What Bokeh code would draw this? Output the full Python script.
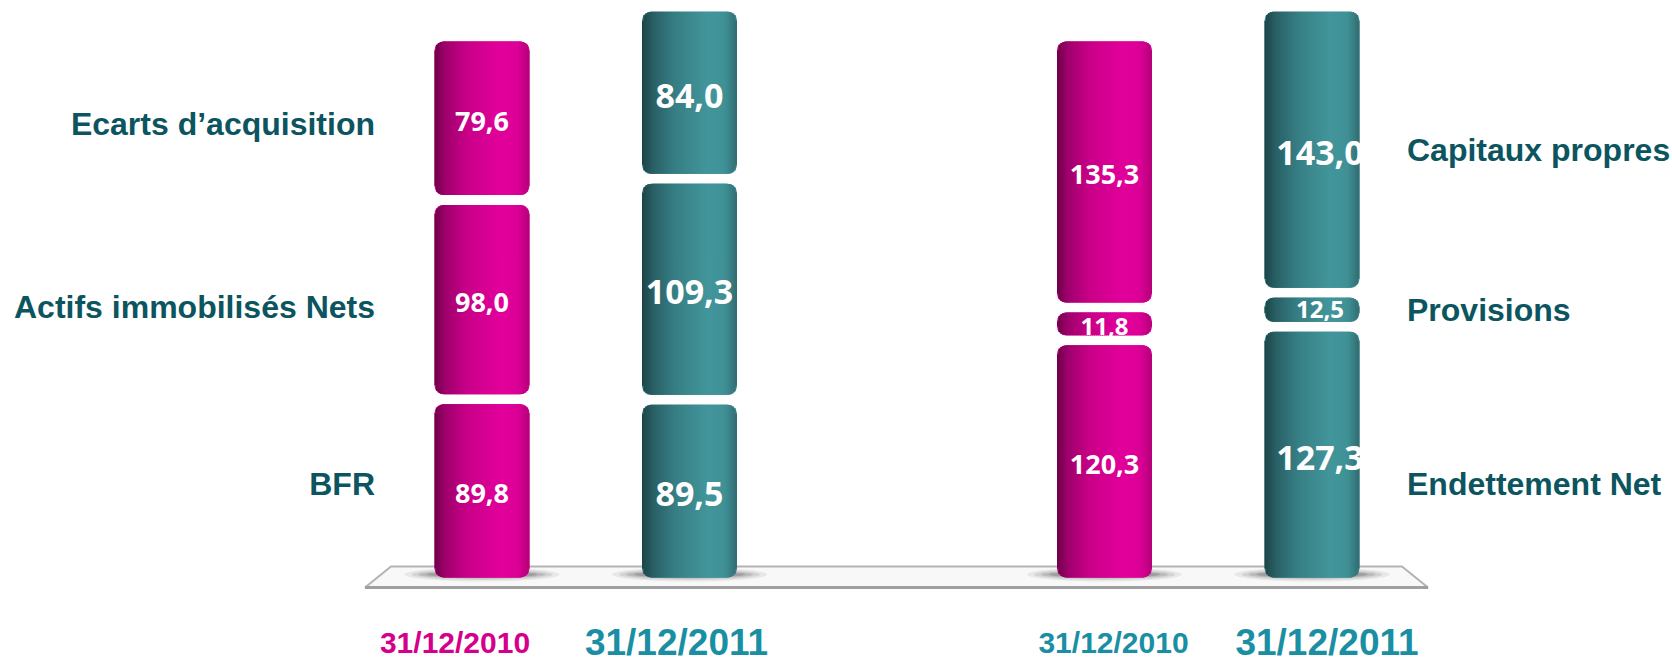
import numpy as np
from bokeh.plotting import figure
from bokeh.models import Range1d
from bokeh.embed import file_html
from bokeh.resources import INLINE
from bokeh.core.properties import value

# ---------------- data ----------------
periods = ["31/12/2010", "31/12/2011"]
actif_items = ["BFR", "Actifs immobilisés Nets", "Ecarts d’acquisition"]
actif_2010 = [89.8, 98.0, 79.6]
actif_2011 = [89.5, 109.3, 84.0]
passif_items = ["Endettement Net", "Provisions", "Capitaux propres"]
passif_2010 = [120.3, 11.8, 135.3]
passif_2011 = [127.3, 12.5, 143.0]

# ---------------- layout / style ----------------
W, H = 1672, 663
PX_X = 207.5          # pixels per x unit
PX_Y = 1.93           # pixels per value unit
X0, Y0 = -481.5 / PX_X, -86 / PX_Y
GAP = 10 / PX_Y
BAR_W = 95 / PX_X
RAD = 9               # corner radius px
NSTRIP = 48

PINK_STOPS = [(0.0, "#6a0046"), (0.12, "#9e006c"), (0.35, "#c90088"),
              (0.70, "#e2009b"), (0.88, "#dc0096"), (1.0, "#b5007a")]
TEAL_STOPS = [(0.0, "#1b4246"), (0.12, "#295f64"), (0.35, "#367e84"),
              (0.70, "#42969b"), (0.88, "#3f9196"), (1.0, "#326d72")]
LABEL_COL = "#0c5560"
PINK_TXT = "#d4008c"
TEAL_TXT = "#1a8fa3"


def hex2rgb(h):
    h = h.lstrip("#")
    return np.array([int(h[i:i + 2], 16) for i in (0, 2, 4)], float)


def grad(stops, t):
    ts = [s[0] for s in stops]
    cs = np.array([hex2rgb(s[1]) for s in stops])
    rgb = [np.interp(t, ts, cs[:, k]) for k in range(3)]
    return "#%02x%02x%02x" % tuple(int(round(c)) for c in rgb)


p = figure(width=W, height=H, output_backend="svg", toolbar_location=None,
           x_range=Range1d(X0, X0 + W / PX_X), y_range=Range1d(Y0, Y0 + H / PX_Y),
           min_border=0)
p.axis.visible = False
p.grid.visible = False
p.outline_line_color = None
p.background_fill_color = "white"
p.border_fill_color = "white"

bars = [
    (0, 0, actif_2010, PINK_STOPS),
    (0, 1, actif_2011, TEAL_STOPS),
    (1, 0, passif_2010, PINK_STOPS),
    (1, 1, passif_2011, TEAL_STOPS),
]
xpos = [3 * g + k for g, k, _, _ in bars]
xf, xl = min(xpos), max(xpos)

# ---- floor ----
fx = [xf - 91 / PX_X, xl + 90 / PX_X, xl + 116 / PX_X, xf - 117 / PX_X]
fy = [11 / PX_Y, 11 / PX_Y, -10 / PX_Y, -10 / PX_Y]
p.patch(fx, fy, fill_color="#f8f8f8", line_color="#b3b3b3", line_width=2)
p.line([fx[3], fx[2]], [fy[3], fy[2]], line_color="#a0a0a0", line_width=3)

# ---- shadows ----
for (dw, dh, a) in [(60, 14, 0.08), (46, 11, 0.11), (32, 8, 0.15), (16, 6, 0.2)]:
    p.ellipse(x=xpos, y=[3 / PX_Y] * 4, width=BAR_W + dw / PX_X, height=dh / PX_Y,
              fill_color="#303030", fill_alpha=a, line_color=None)

# ---- cylinders ----
base = dict(l=[], r=[], b=[], t=[], c=[])
strips = dict(l=[], r=[], b=[], t=[], c=[])
seg_centers = []
sw = BAR_W / NSTRIP
swp = 95 / NSTRIP
for (g, k, vals, stops), x in zip(bars, xpos):
    bottom = 0.0
    centers = []
    for v in vals:
        top = bottom + v
        base["l"].append(x - BAR_W / 2); base["r"].append(x + BAR_W / 2)
        base["b"].append(bottom); base["t"].append(top)
        base["c"].append(grad(stops, 0.5))
        for i in range(NSTRIP):
            t = (i + 0.5) / NSTRIP
            l = x - BAR_W / 2 + i * sw - 0.3 * sw
            r = x - BAR_W / 2 + (i + 1) * sw + 0.3 * sw
            l = max(l, x - BAR_W / 2); r = min(r, x + BAR_W / 2)
            d = min(i, NSTRIP - 1 - i) * swp
            inset = 0.0
            if d < RAD:
                inset = RAD - np.sqrt(RAD ** 2 - (RAD - d) ** 2)
            strips["l"].append(l); strips["r"].append(r)
            strips["b"].append(bottom + inset / PX_Y)
            strips["t"].append(top - inset / PX_Y)
            strips["c"].append(grad(stops, t))
        centers.append((bottom + top) / 2)
        bottom = top + GAP
    seg_centers.append(centers)

p.quad(left=base["l"], right=base["r"], bottom=base["b"], top=base["t"],
       fill_color=base["c"], line_color=None, border_radius=RAD)
p.quad(left=strips["l"], right=strips["r"], bottom=strips["b"], top=strips["t"],
       fill_color=strips["c"], line_color=None)


def fmt(v):
    return f"{v:.1f}".replace(".", ",")


# ---- value labels ----
for bi, ((g, k, vals, stops), x) in enumerate(zip(bars, xpos)):
    big = k == 1
    sizes, yoff = [], []
    for v in vals:
        if v < 20:
            sizes.append("24px")
            yoff.append(3 if k == 0 else 0)
        else:
            sizes.append("34px" if big else "27px")
            yoff.append(3)
    xo = 8 if (g == 1 and k == 1) else 0
    p.text(x=[x] * len(vals), y=seg_centers[bi], text=[fmt(v) for v in vals],
           text_font=value("Open Sans"), text_font_style="bold",
           text_font_size=sizes, text_color="white", text_align="center",
           text_baseline="middle", x_offset=xo, y_offset=yoff)

# ---- category labels ----
p.text(x=[xf - 107 / PX_X] * 3, y=seg_centers[0], text=actif_items,
       text_font=value("Liberation Sans"), text_font_style="bold",
       text_font_size="32px", text_color=LABEL_COL, text_align="right",
       text_baseline="middle", y_offset=[-7, 7, 6])
p.text(x=[xl + 95 / PX_X] * 3, y=seg_centers[3], text=passif_items,
       text_font=value("Liberation Sans"), text_font_style="bold",
       text_font_size="32px", text_color=LABEL_COL, text_align="left",
       text_baseline="middle", y_offset=[29, 0, 0])

# ---- period labels ----
date_y = -33.7
date_x_off = [-27, -13, 9, 15]
date_cols = [PINK_TXT, TEAL_TXT, TEAL_TXT, TEAL_TXT]
date_sizes = ["30px", "37px", "30px", "37px"]
p.text(x=xpos, y=[date_y] * 4, text=[periods[k] for g, k, _, _ in bars],
       text_font=value("Liberation Sans"), text_font_style="bold",
       text_font_size=date_sizes, text_color=date_cols, text_align="center",
       text_baseline="middle", x_offset=date_x_off)

open("out.html", "w").write(file_html(p, INLINE))
